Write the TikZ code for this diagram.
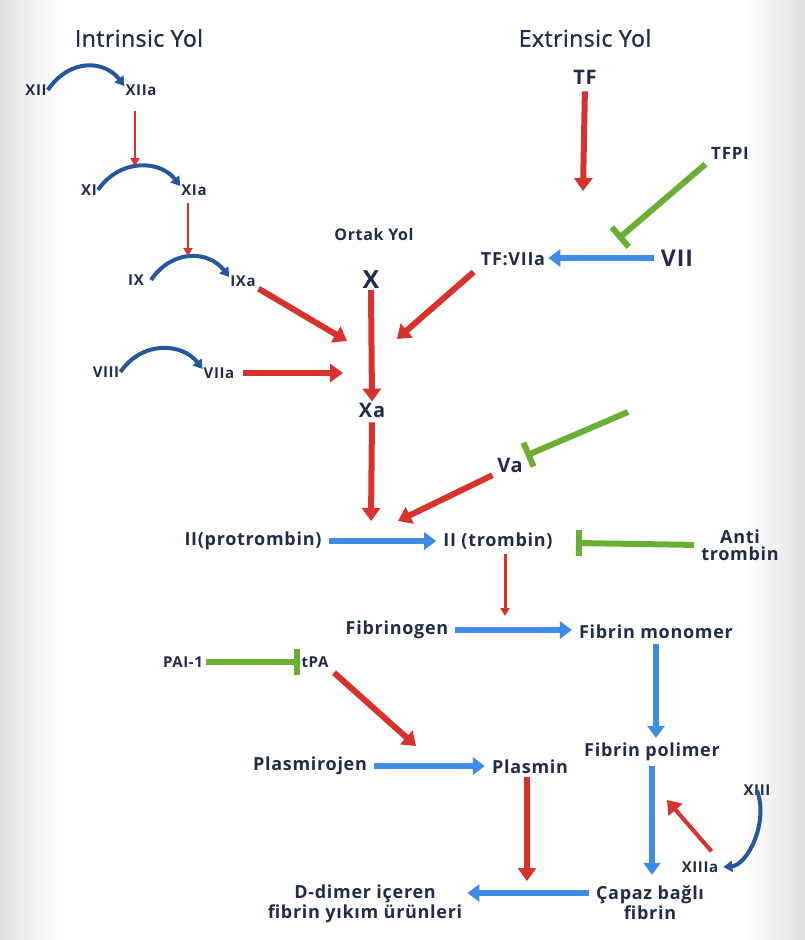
\documentclass[tikz,border=0pt]{standalone}
\usepackage{fontspec}
\setmainfont{Open Sans}
\newfontfamily\labfont{Open Sans}[LetterSpace=4]
\newfontfamily\headfont{Open Sans}[FakeBold=1.2,LetterSpace=2]
\usetikzlibrary{arrows.meta, positioning}
\definecolor{ink}{HTML}{1F2D4A}
\definecolor{actred}{HTML}{D7322B}
\definecolor{convblue}{HTML}{3F8CE6}
\definecolor{inhgreen}{HTML}{6BAF32}
\definecolor{arcblue}{HTML}{24589A}

\begin{document}
\begin{tikzpicture}[x=1pt,y=-1pt,
  head/.style={text=ink,font=\headfont\fontsize{23}{26}\selectfont},
  factor/.style={text=ink,font=\labfont\bfseries\fontsize{15}{18}\selectfont,inner sep=1pt},
  label/.style={text=ink,font=\labfont\bfseries\fontsize{18}{21}\selectfont,inner sep=1pt,align=center},
  act/.style={draw=actred,line width=6pt,-{Triangle[width=18pt,length=13pt]}},
  thinact/.style={draw=actred,line width=2.5pt,-{Triangle[width=9pt,length=8pt]}},
  conv/.style={draw=convblue,line width=6pt,-{Triangle[width=17pt,length=12pt]}},
  inhib/.style={draw=inhgreen,line width=6pt,-{Bar[width=26pt,line width=6pt]}},
  turn/.style={draw=arcblue,line width=4pt,-{Triangle[width=11pt,length=9pt]}}]

% background
  \fill[white] (0,0) rectangle (805,940);
  \shade[left color=black!12,right color=white] (0,0) rectangle (60,940);
  \shade[left color=white,right color=black!12] (745,0) rectangle (805,940);
  \useasboundingbox (0,0) rectangle (805,940);

% define the headings
  \node[head] (intr) at (139,38) {Intrinsic Yol};
  \node[head] (extr) at (585,38) {Extrinsic Yol};
  \node[label,font=\labfont\bfseries\fontsize{16}{19}\selectfont] (ortak) at (374,234) {Ortak Yol};

% intrinsic factors
  \node[factor] (XII)  at (36,90)   {XII};
  \node[factor] (XIIa) at (141,90)  {XIIa};
  \node[factor] (XI)   at (89,190)  {XI};
  \node[factor] (XIa)  at (194,190) {XIa};
  \node[factor] (IX)   at (136,280) {IX};
  \node[factor] (IXa)  at (243,281) {IXa};
  \node[factor] (VIII) at (106,372) {VIII};
  \node[factor] (VIIa) at (219,373) {VIIa};

% extrinsic factors
  \node[label,font=\labfont\bfseries\fontsize{20}{23}\selectfont] (TF) at (585,77) {TF};
  \node[label,font=\labfont\bfseries\fontsize{17}{20}\selectfont] (TFPI) at (730,153) {TFPI};
  \node[label] (TFVIIa) at (513,259) {TF:VIIa};
  \node[label,font=\labfont\bfseries\fontsize{23}{26}\selectfont] (VII) at (677,258) {VII};

% common pathway
  \node[label,font=\labfont\bfseries\fontsize{25}{28}\selectfont] (X) at (371,280) {X};
  \node[label,font=\labfont\bfseries\fontsize{20}{23}\selectfont] (Xa) at (372,410) {Xa};
  \node[label,font=\labfont\bfseries\fontsize{20}{23}\selectfont] (Va) at (510,465) {Va};
  \node[label] (IIpro) at (253,541) {II(protrombin)};
  \node[label] (IItro) at (498,541) {II (trombin)};
  \node[label,font=\labfont\bfseries\fontsize{18}{17}\selectfont] (anti) at (740,545) {Anti\\trombin};
  \node[label] (fgen)  at (397,630) {Fibrinogen};
  \node[label] (fmono) at (656,632) {Fibrin monomer};
  \node[label] (fpoli) at (652,752) {Fibrin polimer};
  \node[factor] (XIII)  at (757,790) {XIII};
  \node[factor] (XIIIa) at (700,867) {XIIIa};
  \node[label,font=\labfont\bfseries\fontsize{18}{20}\selectfont] (capaz) at (650,903) {Çapaz bağlı\\fibrin};

% fibrinolysis
  \node[factor] (PAI) at (183,662) {PAI-1};
  \node[factor] (tPA) at (315,662) {tPA};
  \node[label] (plg)  at (310,766) {Plasmirojen};
  \node[label] (plm)  at (530,767) {Plasmin};
  \node[label,font=\labfont\bfseries\fontsize{18}{20}\selectfont] (ddim) at (365,904) {D-dimer içeren\\fibrin yıkım ürünleri};

% free ends of the connectors
  \coordinate (xiHit)   at (135,166);
  \coordinate (ixHit)   at (188,256);
  \coordinate (viiiHit) at (343,373);
  \coordinate (ixaHit)  at (347,341);
  \coordinate (tfHit)   at (583,191);
  \coordinate (tfpiHit) at (618,239);
  \coordinate (tfvHit)  at (397,339);
  \coordinate (xaHit)   at (371,521);
  \coordinate (vaFrom)  at (628,412);
  \coordinate (vaHit)   at (398,521);
  \coordinate (antiHit) at (576,543);
  \coordinate (trHit)   at (505,616);
  \coordinate (xiiiHit) at (667,800);
  \coordinate (tpaHit)  at (416,746);
  \coordinate (plmHit)  at (527,881);

% activation turns
  \draw[turn] (XII.east)  .. controls +(22,-32) and +(-20,-26) .. ([yshift=4pt]XIIa.west);
  \draw[turn] (XI.east)   .. controls +(22,-32) and +(-20,-26) .. ([yshift=4pt]XIa.west);
  \draw[turn] ([xshift=6pt]IX.east) .. controls +(22,-32) and +(-20,-26) .. ([yshift=4pt]IXa.west);
  \draw[turn] (VIII.east) .. controls +(22,-32) and +(-20,-26) .. ([yshift=4pt]VIIa.west);
  \draw[turn] ([yshift=6pt]XIII.south) .. controls +(12,32) and +(24,-2) .. ([xshift=4pt]XIIIa.east);

% define the links
  \path (XIIa.south -| xiHit) edge[thinact, shorten <=14pt] (xiHit)
        (XIa.south -| ixHit)  edge[thinact, shorten <=6pt] (ixHit)
        (IItro.south -| trHit) edge[thinact, line width=3pt, shorten <=4pt] (trHit);
  \path (VIIa.east) edge[act, shorten <=8pt] (viiiHit)
        (IXa.south east) edge[act, shorten <=2pt] (ixaHit)
        (X.south) edge[act] (Xa.north)
        (TF.south) edge[act, shorten <=6pt] (tfHit)
        (TFVIIa.south west) edge[act, shorten <=8pt] (tfvHit)
        (Xa.south) edge[act, shorten <=4pt] (xaHit)
        (Va.south west) edge[act, shorten <=4pt] (vaHit)
        (tPA.south east) edge[act, shorten <=6pt] (tpaHit)
        (plm.south -| plmHit) edge[act, shorten <=2pt] (plmHit)
        (XIIIa.north east) edge[act, line width=4pt, shorten <=12pt] (xiiiHit);
  \path (TFPI.south west) edge[inhib, shorten <=6pt] (tfpiHit)
        (vaFrom) edge[inhib, shorten >=2pt] (Va.north east)
        (anti.west) edge[inhib, shorten <=6pt] (antiHit)
        (PAI.east) edge[inhib, shorten <=2pt] (tPA.west);
  \path (VII.west) edge[conv, shorten <=6pt, shorten >=2pt] (VII.west -| TFVIIa.east)
        (IIpro.east) edge[conv, shorten <=6pt, shorten >=6pt] (IItro.west)
        (fgen.east) edge[conv, shorten <=6pt, shorten >=6pt] (fgen.east -| fmono.west)
        (fmono.south) edge[conv, shorten <=4pt, shorten >=4pt] (fmono.south |- fpoli.north)
        (fpoli.south) edge[conv, shorten <=4pt, shorten >=10pt] (fpoli.south |- capaz.north)
        (plg.east) edge[conv, shorten <=6pt, shorten >=6pt] (plg.east -| plm.west)
        ([yshift=10pt]capaz.west) edge[conv, shorten <=6pt, shorten >=4pt] ([yshift=10pt]capaz.west -| ddim.east);
\end{tikzpicture}
\end{document}
